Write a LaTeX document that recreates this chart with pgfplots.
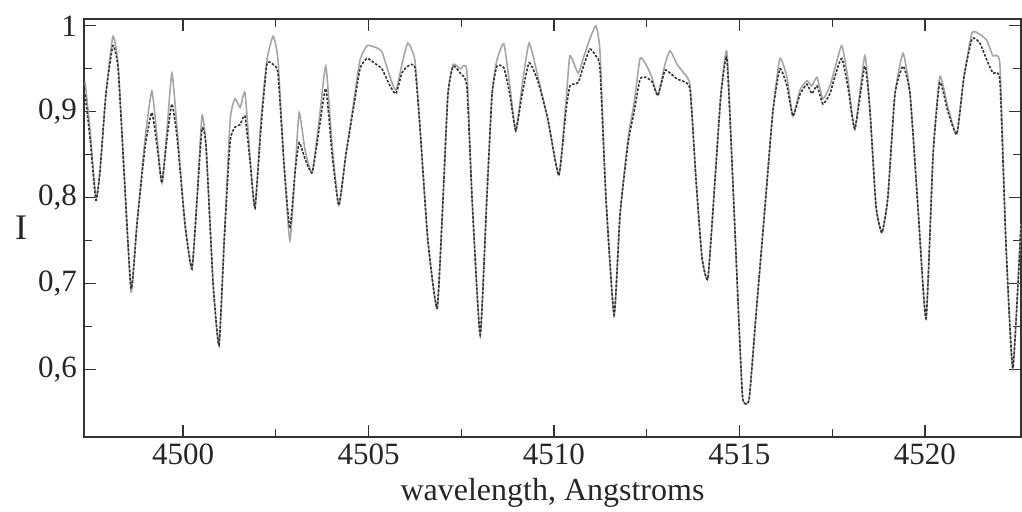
\documentclass[border=0pt]{standalone}
\usepackage{pgfplots}
\pgfplotsset{compat=1.18}
\usepackage{pgfplotstable}
\usepackage{fontspec}
\setmainfont{Liberation Serif}

\pgfplotstableread{
x dark gray
4497.36 0.920 0.935
4497.49 0.870 0.880
4497.65 0.797 0.800
4497.76 0.830 0.830
4497.92 0.920 0.920
4498.11 0.977 0.988
4498.25 0.950 0.955
4498.41 0.830 0.830
4498.60 0.694 0.690
4498.76 0.770 0.770
4498.98 0.860 0.870
4499.16 0.899 0.924
4499.30 0.860 0.870
4499.43 0.817 0.817
4499.57 0.870 0.880
4499.70 0.909 0.945
4499.84 0.870 0.880
4500.05 0.770 0.770
4500.24 0.717 0.717
4500.38 0.800 0.800
4500.51 0.880 0.895
4500.62 0.860 0.860
4500.81 0.700 0.700
4500.97 0.628 0.628
4501.11 0.750 0.750
4501.27 0.865 0.890
4501.40 0.882 0.915
4501.54 0.885 0.905
4501.67 0.895 0.922
4501.81 0.840 0.845
4501.94 0.788 0.788
4502.10 0.880 0.890
4502.26 0.955 0.960
4502.43 0.955 0.988
4502.56 0.944 0.960
4502.72 0.840 0.840
4502.88 0.764 0.750
4503.02 0.830 0.830
4503.13 0.864 0.899
4503.29 0.845 0.855
4503.48 0.829 0.829
4503.67 0.880 0.890
4503.85 0.927 0.953
4504.02 0.850 0.860
4504.20 0.791 0.791
4504.39 0.850 0.850
4504.58 0.900 0.905
4504.77 0.950 0.960
4504.96 0.962 0.977
4505.18 0.956 0.975
4505.36 0.950 0.970
4505.58 0.930 0.940
4505.74 0.921 0.925
4505.90 0.945 0.955
4506.06 0.953 0.980
4506.25 0.952 0.960
4506.39 0.880 0.880
4506.60 0.750 0.750
4506.85 0.671 0.671
4507.01 0.800 0.800
4507.14 0.920 0.920
4507.28 0.953 0.955
4507.47 0.945 0.950
4507.65 0.930 0.948
4507.79 0.800 0.800
4508.01 0.640 0.640
4508.19 0.800 0.800
4508.33 0.920 0.920
4508.46 0.953 0.960
4508.65 0.951 0.979
4508.81 0.920 0.930
4508.97 0.878 0.878
4509.14 0.920 0.930
4509.33 0.957 0.980
4509.57 0.935 0.940
4509.84 0.890 0.890
4510.13 0.826 0.826
4510.32 0.900 0.910
4510.43 0.930 0.965
4510.65 0.934 0.945
4510.81 0.955 0.965
4510.97 0.973 0.985
4511.13 0.965 1.000
4511.24 0.950 0.970
4511.40 0.800 0.800
4511.62 0.663 0.663
4511.78 0.780 0.780
4512.00 0.864 0.870
4512.16 0.900 0.910
4512.32 0.938 0.962
4512.48 0.940 0.955
4512.64 0.935 0.940
4512.80 0.919 0.919
4512.99 0.948 0.955
4513.13 0.945 0.971
4513.32 0.938 0.955
4513.50 0.935 0.945
4513.67 0.925 0.930
4513.83 0.820 0.820
4513.99 0.730 0.730
4514.15 0.706 0.706
4514.34 0.820 0.820
4514.50 0.920 0.920
4514.66 0.962 0.970
4514.82 0.820 0.820
4514.99 0.650 0.650
4515.09 0.565 0.565
4515.26 0.565 0.565
4515.44 0.660 0.660
4515.69 0.790 0.790
4515.90 0.900 0.900
4516.09 0.950 0.962
4516.28 0.930 0.940
4516.44 0.895 0.895
4516.63 0.920 0.925
4516.82 0.932 0.936
4516.95 0.921 0.930
4517.09 0.930 0.940
4517.25 0.909 0.915
4517.44 0.921 0.930
4517.60 0.945 0.955
4517.76 0.962 0.977
4517.92 0.930 0.940
4518.11 0.880 0.880
4518.38 0.953 0.965
4518.52 0.900 0.900
4518.68 0.790 0.790
4518.84 0.759 0.759
4519.00 0.800 0.800
4519.19 0.920 0.920
4519.41 0.953 0.968
4519.60 0.920 0.920
4519.81 0.790 0.790
4520.03 0.659 0.659
4520.22 0.850 0.850
4520.40 0.934 0.941
4520.62 0.900 0.905
4520.86 0.874 0.874
4521.05 0.940 0.940
4521.27 0.985 0.992
4521.48 0.980 0.990
4521.67 0.960 0.983
4521.83 0.945 0.965
4522.02 0.936 0.955
4522.18 0.750 0.750
4522.37 0.601 0.601
4522.59 0.770 0.770
}\spec

\begin{document}
\begin{tikzpicture}
\begin{axis}[
  scale only axis,
  width=468.5pt, height=209pt,
  xmin=4497.33, xmax=4522.59,
  ymin=0.521, ymax=1.008,
  xtick={4500,4505,4510,4515,4520},
  ytick={0.6,0.7,0.8,0.9,1},
  minor x tick num=1, minor y tick num=1,
  major tick length=6pt, minor tick length=4pt,
  tick style={black!80, line width=0.6pt},
  axis line style={black!80, line width=1.2pt},
  /pgf/number format/assume math mode=true,
  /pgf/number format/use comma,
  /pgf/number format/1000 sep={},
  tick label style={font=\fontsize{15.5}{18}\selectfont, black!85},
  label style={font=\fontsize{16}{18}\selectfont, black!85},
  xlabel={wavelength, Angstroms},
  ylabel={I},
  xlabel style={at={(axis description cs:0.5,-0.134)}, anchor=center},
  ylabel style={at={(axis description cs:-0.067,0.5)}, anchor=center, rotate=-90, font=\fontsize{18}{20}\selectfont},
  clip=true,
]
\addplot[black!35, line width=0.8pt, smooth, tension=0.3] table[x=x, y=gray] {\spec};
\addplot[black!80, line width=0.8pt, smooth, tension=0.3, dash pattern=on 1.3pt off 0.8pt] table[x=x, y=dark] {\spec};
\coordinate (bl) at (rel axis cs:0,0);
\coordinate (tr) at (rel axis cs:1,1);
\end{axis}
\pgfresetboundingbox
\path[use as bounding box] ([shift={(-42pt,-37.5pt)}]bl) rectangle ([shift={(0.5pt,9.5pt)}]tr);
\end{tikzpicture}
\end{document}
